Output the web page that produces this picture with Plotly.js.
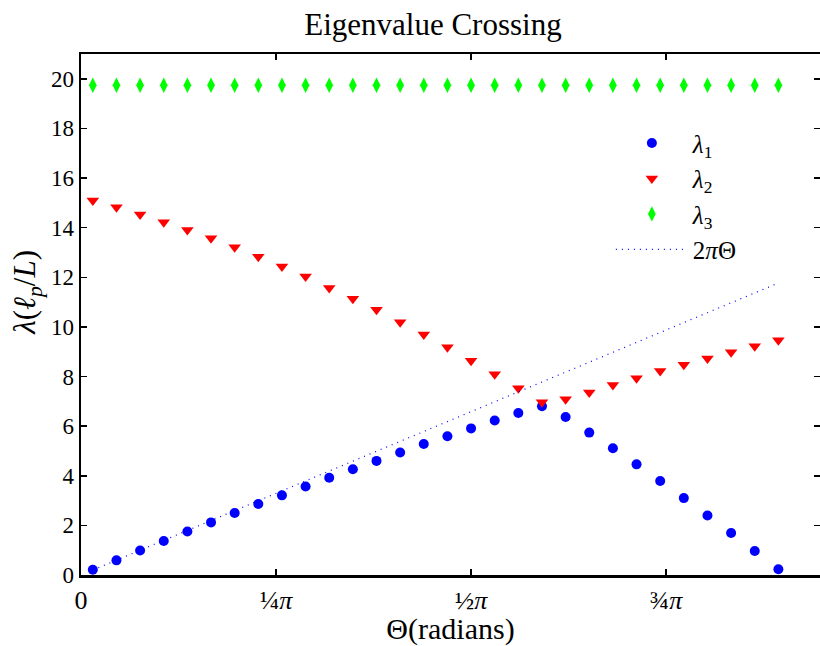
<!DOCTYPE html>
<html>
<head>
<meta charset="utf-8">
<script src="https://cdn.plot.ly/plotly-3.0.1.min.js"></script>
<style>html,body{margin:0;padding:0;background:#fff;}#chart{width:820px;height:646px;}</style>
</head>
<body>
<div id="chart"></div>
<script>
// Θ values (radians)
const theta = [0.0476,0.1428,0.2380,0.3332,0.4284,0.5236,0.6188,0.7140,0.8092,0.9044,
               0.9996,1.0948,1.1900,1.2852,1.3804,1.4756,1.5708,1.6660,1.7612,1.8564,
               1.9516,2.0468,2.1420,2.2372,2.3324,2.4276,2.5228,2.6180,2.7132,2.8084];
const lambda1 = [0.21,0.59,0.99,1.37,1.75,2.12,2.50,2.86,3.21,3.57,
                 3.92,4.26,4.60,4.94,5.28,5.59,5.91,6.23,6.53,6.80,
                 6.37,5.74,5.11,4.46,3.79,3.10,2.40,1.69,0.97,0.23];
const lambda2 = [15.09,14.82,14.53,14.22,13.91,13.57,13.21,12.83,12.43,12.03,
                 11.57,11.13,10.69,10.19,9.69,9.18,8.64,8.09,7.53,6.96,
                 7.08,7.36,7.66,7.93,8.22,8.47,8.73,8.98,9.22,9.46];
const lambda3 = [19.74,19.74,19.74,19.74,19.74,19.74,19.74,19.74,19.74,19.74,
                 19.74,19.74,19.74,19.74,19.74,19.74,19.74,19.74,19.74,19.74,
                 19.74,19.74,19.74,19.74,19.74,19.74,19.74,19.74,19.74,19.74];
const lineX = [0.0476, 2.8084];
const lineY = [0.20, 11.77];
const xTickVals = [0, 0.7854, 1.5708, 2.3562];
const xTickText = ['0', '¼<i>π</i>', '½<i>π</i>', '¾<i>π</i>'];
const yTickVals = [0,2,4,6,8,10,12,14,16,18,20];

const FONT = '"Liberation Serif", "DejaVu Serif", serif';

const traces = [
  {x: theta, y: lambda1, mode: 'markers', name: '<i>λ</i><sub>1</sub>',
   marker: {symbol: 'circle', size: 10, color: '#0000ff'}},
  {x: theta, y: lambda2, mode: 'markers', name: '<i>λ</i><sub>2</sub>',
   marker: {symbol: 'triangle-down', size: 11, color: '#ff0000'}},
  {x: theta, y: lambda3, mode: 'markers', name: '<i>λ</i><sub>3</sub>',
   marker: {symbol: 'diamond-tall', size: 11, color: '#00ff00'}},
  {x: lineX, y: lineY, mode: 'lines', name: '2<i>π</i>Θ',
   line: {color: '#0000ff', width: 1.2, dash: '1px,5px'}}
];

const layout = {
  width: 820, height: 646,
  margin: {l: 81, r: 0, t: 54, b: 71},
  paper_bgcolor: '#fff', plot_bgcolor: '#fff',
  font: {family: FONT, color: '#000', size: 20},
  title: {text: 'Eigenvalue Crossing', font: {family: FONT, size: 31, color: '#000'},
          x: 0.528, xanchor: 'center', y: 0.962, yanchor: 'middle'},
  xaxis: {
    range: [0, 2.976], tickmode: 'array', tickvals: xTickVals, ticktext: xTickText,
    ticks: 'inside', ticklen: 6, tickwidth: 1.5, tickcolor: '#000',
    showline: true, linecolor: '#000', linewidth: 2.5, mirror: 'ticks',
    showgrid: false, zeroline: false,
    tickfont: {family: FONT, size: 26, color: '#000'},
    title: {text: 'Θ(radians)', font: {family: FONT, size: 30, color: '#000'}, standoff: 5}
  },
  yaxis: {
    range: [0, 21], tickmode: 'array', tickvals: yTickVals,
    ticks: 'inside', ticklen: 6, tickwidth: 1.5, tickcolor: '#000',
    showline: true, linecolor: '#000', linewidth: 2.5, mirror: 'ticks',
    showgrid: false, zeroline: false,
    tickfont: {family: FONT, size: 23, color: '#000'}
  },
  annotations: [{
    text: '<i>λ</i>(<i>ℓ</i><sub><i>p</i></sub>/<i>L</i>)', textangle: -90,
    xref: 'paper', yref: 'paper', x: -0.073, y: 0.542, xanchor: 'center', yanchor: 'middle',
    showarrow: false, font: {family: FONT, size: 31, color: '#000'}
  }],
  legend: {x: 0.717, xanchor: 'left', y: 0.873, yanchor: 'top', itemwidth: 72,
           bgcolor: 'rgba(0,0,0,0)', borderwidth: 0,
           font: {family: FONT, size: 25, color: '#000'}},
  showlegend: true
};

Plotly.newPlot('chart', traces, layout, {displayModeBar: false, staticPlot: true});
</script>
</body>
</html>
